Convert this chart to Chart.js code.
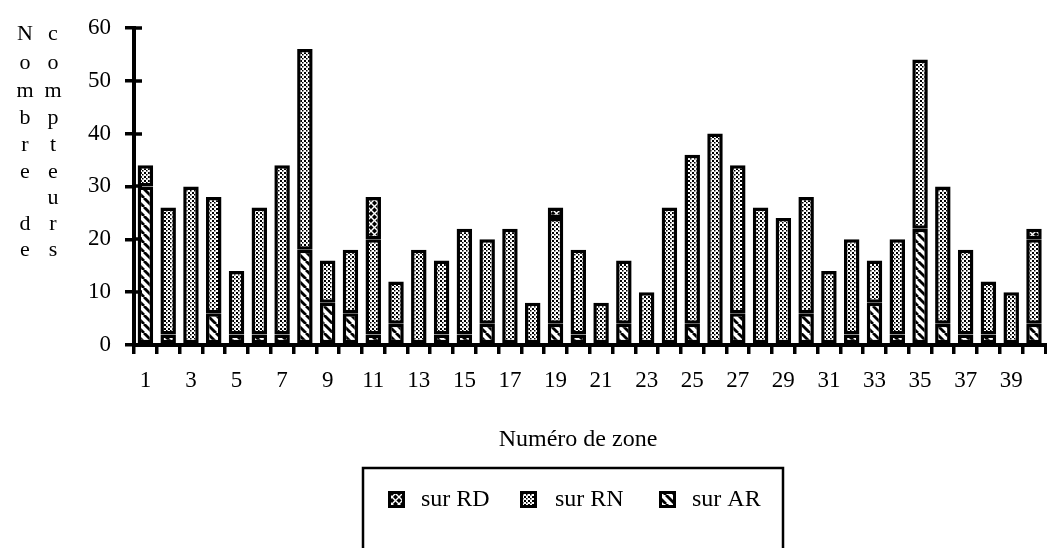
<!DOCTYPE html>
<html>
<head>
<meta charset="utf-8">
<script src="https://cdn.jsdelivr.net/npm/chart.js@4/dist/chart.umd.min.js"></script>
<style>
  html, body { margin: 0; padding: 0; background: #fff; }
  #wrap { position: relative; width: 1047px; height: 548px; }
</style>
</head>
<body>
<div id="wrap"><canvas id="compteurs" width="1047" height="548"></canvas></div>
<script>
const zones = ['1','2','3','4','5','6','7','8','9','10',
    '11','12','13','14','15','16','17','18','19','20',
    '21','22','23','24','25','26','27','28','29','30',
    '31','32','33','34','35','36','37','38','39','40'];

// compteurs par zone, empilés AR / RN / RD
const surAR = [30, 2, 0, 6, 2, 2, 2, 18, 8, 6,
    2, 4, 0, 2, 2, 4, 0, 0, 4, 2,
    0, 4, 0, 0, 4, 0, 6, 0, 0, 6,
    0, 2, 8, 2, 22, 4, 2, 2, 0, 4];
const surRN = [4, 24, 30, 22, 12, 24, 32, 38, 8, 12,
    18, 8, 18, 14, 20, 16, 22, 8, 20, 16,
    8, 12, 10, 26, 32, 40, 28, 26, 24, 22,
    14, 18, 8, 18, 32, 26, 16, 10, 10, 16];
const surRD = [0, 0, 0, 0, 0, 0, 0, 0, 0, 0,
    8, 0, 0, 0, 0, 0, 0, 0, 2, 0,
    0, 0, 0, 0, 0, 0, 0, 0, 0, 0,
    0, 0, 0, 0, 0, 0, 0, 0, 0, 2];

const yMax = 60, yStep = 10;
const titreY1 = ['N', 'o', 'm', 'b', 'r', 'e', '', 'd', 'e'];
const titreY2 = ['c', 'o', 'm', 'p', 't', 'e', 'u', 'r', 's'];
const titreX = 'Numéro de zone';

const serif = 'Liberation Serif';

function motif(size, draw) {
    const c = document.createElement('canvas');
    c.width = c.height = size;
    const g = c.getContext('2d');
    draw(g, size);
    return g.createPattern(c, 'repeat');
}

// hachures "\"
const hachure = motif(9, (g, s) => {
    g.fillStyle = '#fff';
    g.fillRect(0, 0, s, s);
    g.strokeStyle = '#000';
    g.lineWidth = 2.8;
    for (let k = -s; k <= s; k += s) {
        g.beginPath();
        g.moveTo(k, 0);
        g.lineTo(k + s, s);
        g.stroke();
    }
});

// pointillé
const pointille = motif(4, (g, s) => {
    g.fillStyle = '#fff';
    g.fillRect(0, 0, s, s);
    g.fillStyle = '#000';
    g.fillRect(0, 0, 2, 2);
    g.fillRect(2, 2, 1.5, 1.5);
});

// quadrillage croisé
const croise = motif(7, (g, s) => {
    g.fillStyle = '#000';
    g.fillRect(0, 0, s, s);
    g.strokeStyle = '#fff';
    g.lineWidth = 1.4;
    g.beginPath();
    g.moveTo(0, 0); g.lineTo(s, s);
    g.moveTo(s, 0); g.lineTo(0, s);
    g.stroke();
});

const barStyle = {
    borderColor: '#000',
    borderWidth: 3.5,
    borderSkipped: false,
    barPercentage: 0.68,
    categoryPercentage: 1,
};

// titres, graduations croisées et cadre de légende
const decor = {
    id: 'decor',
    afterDraw(chart) {
        const ctx = chart.ctx;
        const y = chart.scales.y;
        ctx.save();
        ctx.strokeStyle = '#000';
        ctx.lineWidth = 3.5;
        y.ticks.forEach(t => {
            const py = Math.round(y.getPixelForValue(t.value));
            ctx.beginPath();
            ctx.moveTo(y.right, py);
            ctx.lineTo(y.right + 8, py);
            ctx.stroke();
        });

        ctx.fillStyle = '#000';
        ctx.font = '22px "' + serif + '"';
        ctx.textAlign = 'center';
        ctx.textBaseline = 'alphabetic';
        const lignes = [40, 69, 97, 124, 151, 178, 204, 230, 256];
        lignes.forEach((ly, i) => {
            ctx.fillText(titreY1[i], 25, ly);
            ctx.fillText(titreY2[i], 53, ly);
        });

        ctx.textBaseline = 'middle';
        ctx.font = '24px "' + serif + '"';
        ctx.fillText(titreX, 578, 440);

        // légende
        ctx.lineWidth = 2.5;
        ctx.strokeRect(363, 468, 420, 100);
        const items = [
            { ds: 2, sx: 388, tx: 421 },
            { ds: 1, sx: 520, tx: 555 },
            { ds: 0, sx: 659, tx: 692 },
        ];
        ctx.textAlign = 'left';
        ctx.font = '24px "' + serif + '"';
        items.forEach(it => {
            const d = chart.data.datasets[it.ds];
            ctx.fillStyle = d.backgroundColor;
            ctx.fillRect(it.sx, 491, 17, 17);
            ctx.lineWidth = 3;
            ctx.strokeRect(it.sx + 1.5, 492.5, 14, 14);
            ctx.fillStyle = '#000';
            ctx.fillText(d.label, it.tx, 500);
        });
        ctx.restore();
    }
};

new Chart(document.getElementById('compteurs'), {
    type: 'bar',
    data: {
        labels: zones,
        datasets: [
            { label: 'sur AR', data: surAR, backgroundColor: hachure, ...barStyle },
            { label: 'sur RN', data: surRN, backgroundColor: pointille, ...barStyle },
            { label: 'sur RD', data: surRD, backgroundColor: croise, ...barStyle },
        ]
    },
    options: {
        responsive: false,
        animation: false,
        devicePixelRatio: 1,
        layout: { padding: { top: 21, right: 1, left: 0, bottom: 0 } },
        plugins: {
            legend: { display: false },
            tooltip: { enabled: false },
        },
        scales: {
            x: {
                stacked: true,
                grid: { offset: true, drawOnChartArea: false, tickLength: 9, color: '#000', lineWidth: 3.5 },
                border: { color: '#000', width: 4 },
                ticks: {
                    color: '#000',
                    autoSkip: false,
                    maxRotation: 0,
                    padding: 13,
                    font: { family: serif, size: 23 },
                    callback: (v, i) => i % 2 === 0 ? zones[i] : '',
                },
                afterFit: s => { s.height = 548 - 345; },
            },
            y: {
                stacked: true,
                min: 0,
                max: yMax,
                grid: { drawOnChartArea: false, tickLength: 9, color: '#000', lineWidth: 3.5 },
                border: { color: '#000', width: 4 },
                ticks: {
                    stepSize: yStep,
                    color: '#000',
                    padding: 14,
                    font: { family: serif, size: 23 },
                },
                afterFit: s => { s.width = 134; },
            },
        },
    },
    plugins: [decor],
});
</script>
</body>
</html>
